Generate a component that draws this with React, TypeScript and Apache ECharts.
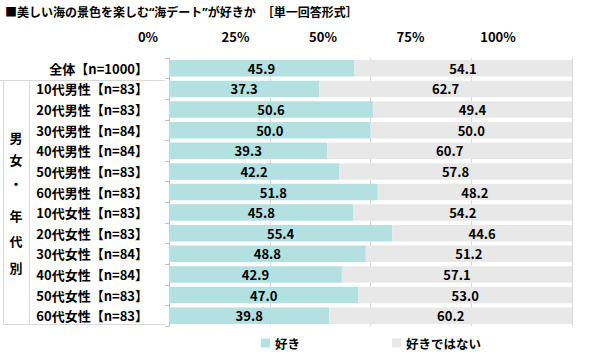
import React, { useEffect, useRef } from "react";
import * as echarts from "echarts";

const titleText = "■美しい海の景色を楽しむ“海デート”が好きか　［単一回答形式］";
const categories = [
  "全体【n=1000】",
  "10代男性【n=83】",
  "20代男性【n=83】",
  "30代男性【n=84】",
  "40代男性【n=84】",
  "50代男性【n=83】",
  "60代男性【n=83】",
  "10代女性【n=83】",
  "20代女性【n=83】",
  "30代女性【n=84】",
  "40代女性【n=84】",
  "50代女性【n=83】",
  "60代女性【n=83】",
];
const likeValues = [45.9, 37.3, 50.6, 50.0, 39.3, 42.2, 51.8, 45.8, 55.4, 48.8, 42.9, 47.0, 39.8];
const dislikeValues = [54.1, 62.7, 49.4, 50.0, 60.7, 57.8, 48.2, 54.2, 44.6, 51.2, 57.1, 53.0, 60.2];
const seriesNames = ["好き", "好きではない"];
const groupLabelChars = ["男", "女", "・", "年", "代", "別"];
const groupLabelY = [137, 159, 183, 215, 240, 267];

const FONT = "'Noto Sans CJK JP', 'Noto Sans', sans-serif";
const TITLE_FONT = "'Noto Sans', 'Noto Sans CJK JP', sans-serif";

export default function App() {
  const ref = useRef<HTMLDivElement>(null);
  useEffect(() => {
    if (!ref.current) return;
    const chart = echarts.init(ref.current, null, { renderer: "svg" });
    const lineColor = "#d9d9d9";
    const graphics: any[] = [
      {
        type: "text",
        left: 5,
        top: 6,
        style: { text: titleText, font: `bold 12px ${TITLE_FONT}`, fill: "#000" },
      },
      { type: "line", shape: { x1: 0, y1: 80.5, x2: 165, y2: 80.5 }, style: { stroke: lineColor, lineWidth: 1 } },
      { type: "line", shape: { x1: 3.5, y1: 80.5, x2: 3.5, y2: 324.5 }, style: { stroke: lineColor, lineWidth: 1 } },
      { type: "line", shape: { x1: 29.5, y1: 80.5, x2: 29.5, y2: 324.5 }, style: { stroke: lineColor, lineWidth: 1 } },
      { type: "line", shape: { x1: 3.5, y1: 324.5, x2: 165, y2: 324.5 }, style: { stroke: lineColor, lineWidth: 1 } },
    ];
    groupLabelChars.forEach((c, i) => {
      graphics.push({
        type: "text",
        x: 16,
        y: groupLabelY[i],
        style: { text: c, font: `bold 13px ${FONT}`, fill: "#000", align: "center", verticalAlign: "middle" },
      });
    });
    const labelStyle = {
      fontFamily: FONT,
      fontWeight: "bold",
      fontSize: 13,
      color: "#000",
    };
    chart.setOption({
      animation: false,
      textStyle: { fontFamily: FONT },
      grid: [
        { left: 169, right: 28, top: 58, bottom: 29 },
        { left: 148, right: 102, top: 46, height: 1 },
      ],
      legend: {
        data: seriesNames,
        left: 261,
        top: 335,
        padding: 0,
        itemWidth: 9,
        itemHeight: 9,
        itemGap: 92,
        icon: "rect",
        textStyle: { ...labelStyle, fontSize: 12.5, lineHeight: 16 },
      },
      xAxis: [
        {
          type: "value",
          gridIndex: 0,
          min: 0,
          max: 100,
          interval: 25,
          axisLabel: { show: false },
          axisLine: { show: false },
          axisTick: { show: false },
          splitLine: { show: true, lineStyle: { color: "#d9d9d9", width: 1 } },
        },
        {
          type: "value",
          gridIndex: 1,
          position: "top",
          min: 0,
          max: 100,
          interval: 25,
          axisLabel: { show: true, formatter: "{value}%", margin: 3, ...labelStyle },
          axisLine: { show: false },
          axisTick: { show: false },
          splitLine: { show: false },
        },
      ],
      yAxis: [
        {
          type: "category",
          gridIndex: 0,
          data: categories,
          inverse: true,
          axisLine: { show: true, lineStyle: { color: "#bfbfbf" } },
          axisTick: { show: true, length: 4, alignWithLabel: false, lineStyle: { color: "#bfbfbf" } },
          axisLabel: { margin: 21, ...labelStyle },
        },
        {
          type: "category",
          gridIndex: 1,
          data: ["x"],
          show: false,
        },
      ],
      series: [
        {
          name: seriesNames[0],
          type: "bar",
          stack: "total",
          xAxisIndex: 0,
          yAxisIndex: 0,
          barWidth: "80%",
          data: likeValues,
          itemStyle: { color: "#b3e0e0" },
          label: {
            show: true,
            position: "inside",
            formatter: (p: any) => p.value.toFixed(1),
            ...labelStyle,
          },
        },
        {
          name: seriesNames[1],
          type: "bar",
          stack: "total",
          xAxisIndex: 0,
          yAxisIndex: 0,
          barWidth: "80%",
          data: dislikeValues,
          itemStyle: { color: "#e8e8e8" },
          label: {
            show: true,
            position: "inside",
            formatter: (p: any) => p.value.toFixed(1),
            ...labelStyle,
          },
        },
      ],
      graphic: graphics,
    });
    return () => chart.dispose();
  }, []);
  return (
    <div
      ref={ref}
      style={{ position: "fixed", left: 0, top: 0, width: 600, height: 355, background: "#fff" }}
    />
  );
}
